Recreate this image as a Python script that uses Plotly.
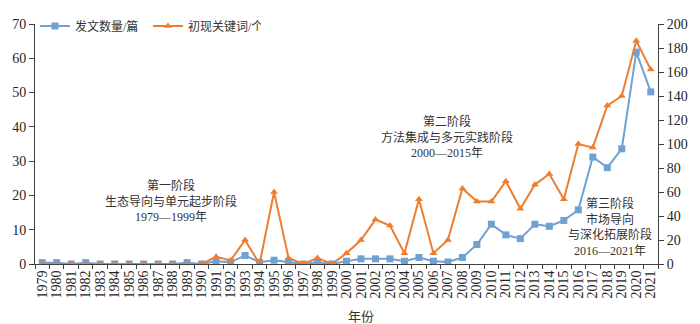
import plotly.graph_objects as go

years = [str(y) for y in range(1979, 2022)]
papers = [0.4, 0.4, 0, 0.4, 0, 0, 0, 0, 0, 0, 0.4, 0,
          0.8, 0.5, 2.5, 0.5, 1.1, 0.6, 0, 0.5, 0,
          0.8, 1.5, 1.5, 1.5, 0.8, 1.9, 0.8, 0.6, 1.9, 5.7,
          11.6, 8.5, 7.4, 11.6, 11.0, 12.7, 15.8, 31.2, 28.1, 33.6, 61.8, 50.2]
keywords = [0, 0, 0, 0, 0, 0, 0, 0, 0, 0, 0, 0,
            6, 3, 20, 0, 60, 5, 0, 5, 0,
            9, 20, 37, 32, 9, 54, 9, 20, 63, 52,
            52, 69, 46, 66, 75, 54, 100, 97, 132, 140, 186, 162]
series_names = ["发文数量/篇", "初现关键词/个"]
stage_years = ["1999", "2015"]
stage_texts = ["第一阶段<br>生态导向与单元起步阶段<br>1979—1999年",
               "第二阶段<br>方法集成与多元实践阶段<br>2000—2015年",
               "第三阶段<br>市场导向<br>与深化拓展阶段<br>2016—2021年"]
x_title = "年份"

FONT = "'Liberation Serif', 'Noto Sans CJK SC', serif"
BLUE = "#6fa2d3"
ORANGE = "#ed7d31"
AX = "#404040"
TXT = "#262626"

fig = go.Figure()
fig.add_trace(go.Scatter(x=years, y=papers, name=series_names[0], mode="lines+markers",
                         line=dict(color=BLUE, width=2),
                         marker=dict(symbol="square", size=7, color=BLUE)))
fig.add_trace(go.Scatter(x=years, y=keywords, name=series_names[1], mode="lines+markers",
                         yaxis="y2",
                         line=dict(color=ORANGE, width=2),
                         marker=dict(symbol="triangle-up", size=7, color=ORANGE)))

for yr in stage_years:
    fig.add_shape(type="line", xref="x", yref="paper", x0=yr, x1=yr, y0=0, y1=1.06,
                  line=dict(color="#666666", width=1, dash="dot"))

ann_pos = [(0.218, 0.261), (0.661, 0.528), (0.923, 0.153)]
for txt, (ax, ay) in zip(stage_texts, ann_pos):
    fig.add_annotation(text=txt, xref="paper", yref="paper", x=ax, y=ay,
                       showarrow=False, xanchor="center", yanchor="middle",
                       font=dict(family=FONT, size=12, color="#333333"), align="center")

fig.add_annotation(text=x_title, xref="paper", yref="paper", x=0.523, y=-0.217,
                   showarrow=False, xanchor="center", yanchor="middle",
                   font=dict(family=FONT, size=13, color="#333333"))

fig.update_layout(
    width=700, height=324,
    margin=dict(l=21, r=27, t=15, b=60),
    paper_bgcolor="white", plot_bgcolor="white",
    font=dict(family=FONT, size=14, color=TXT),
    showlegend=True,
    legend=dict(orientation="h", x=0.0, y=1.052, xanchor="left", yanchor="top",
                bgcolor="rgba(0,0,0,0)", font=dict(family=FONT, size=12, color="#333333"),
                entrywidth=68, entrywidthmode="pixels"),
    xaxis=dict(type="category", range=[-0.5, 42.5], showgrid=False, zeroline=False,
               showline=True, linecolor=AX, linewidth=1,
               tickmode="array", tickvals=years, ticktext=years,
               ticks="outside", ticklen=4, tickcolor=AX, tickson="boundaries",
               tickangle=-90, tickfont=dict(family=FONT, size=14, color=TXT)),
    yaxis=dict(range=[0, 70], dtick=10, showgrid=False, zeroline=False,
               showline=True, linecolor=AX, linewidth=1,
               ticks="outside", ticklen=5, tickcolor=AX,
               tickfont=dict(family=FONT, size=14, color=TXT)),
    yaxis2=dict(range=[0, 200], dtick=20, overlaying="y", side="right",
                showgrid=False, zeroline=False,
                showline=True, linecolor=AX, linewidth=1,
                ticks="outside", ticklen=5, tickcolor=AX,
                tickfont=dict(family=FONT, size=14, color=TXT)),
)

fig.write_html("out.html")
